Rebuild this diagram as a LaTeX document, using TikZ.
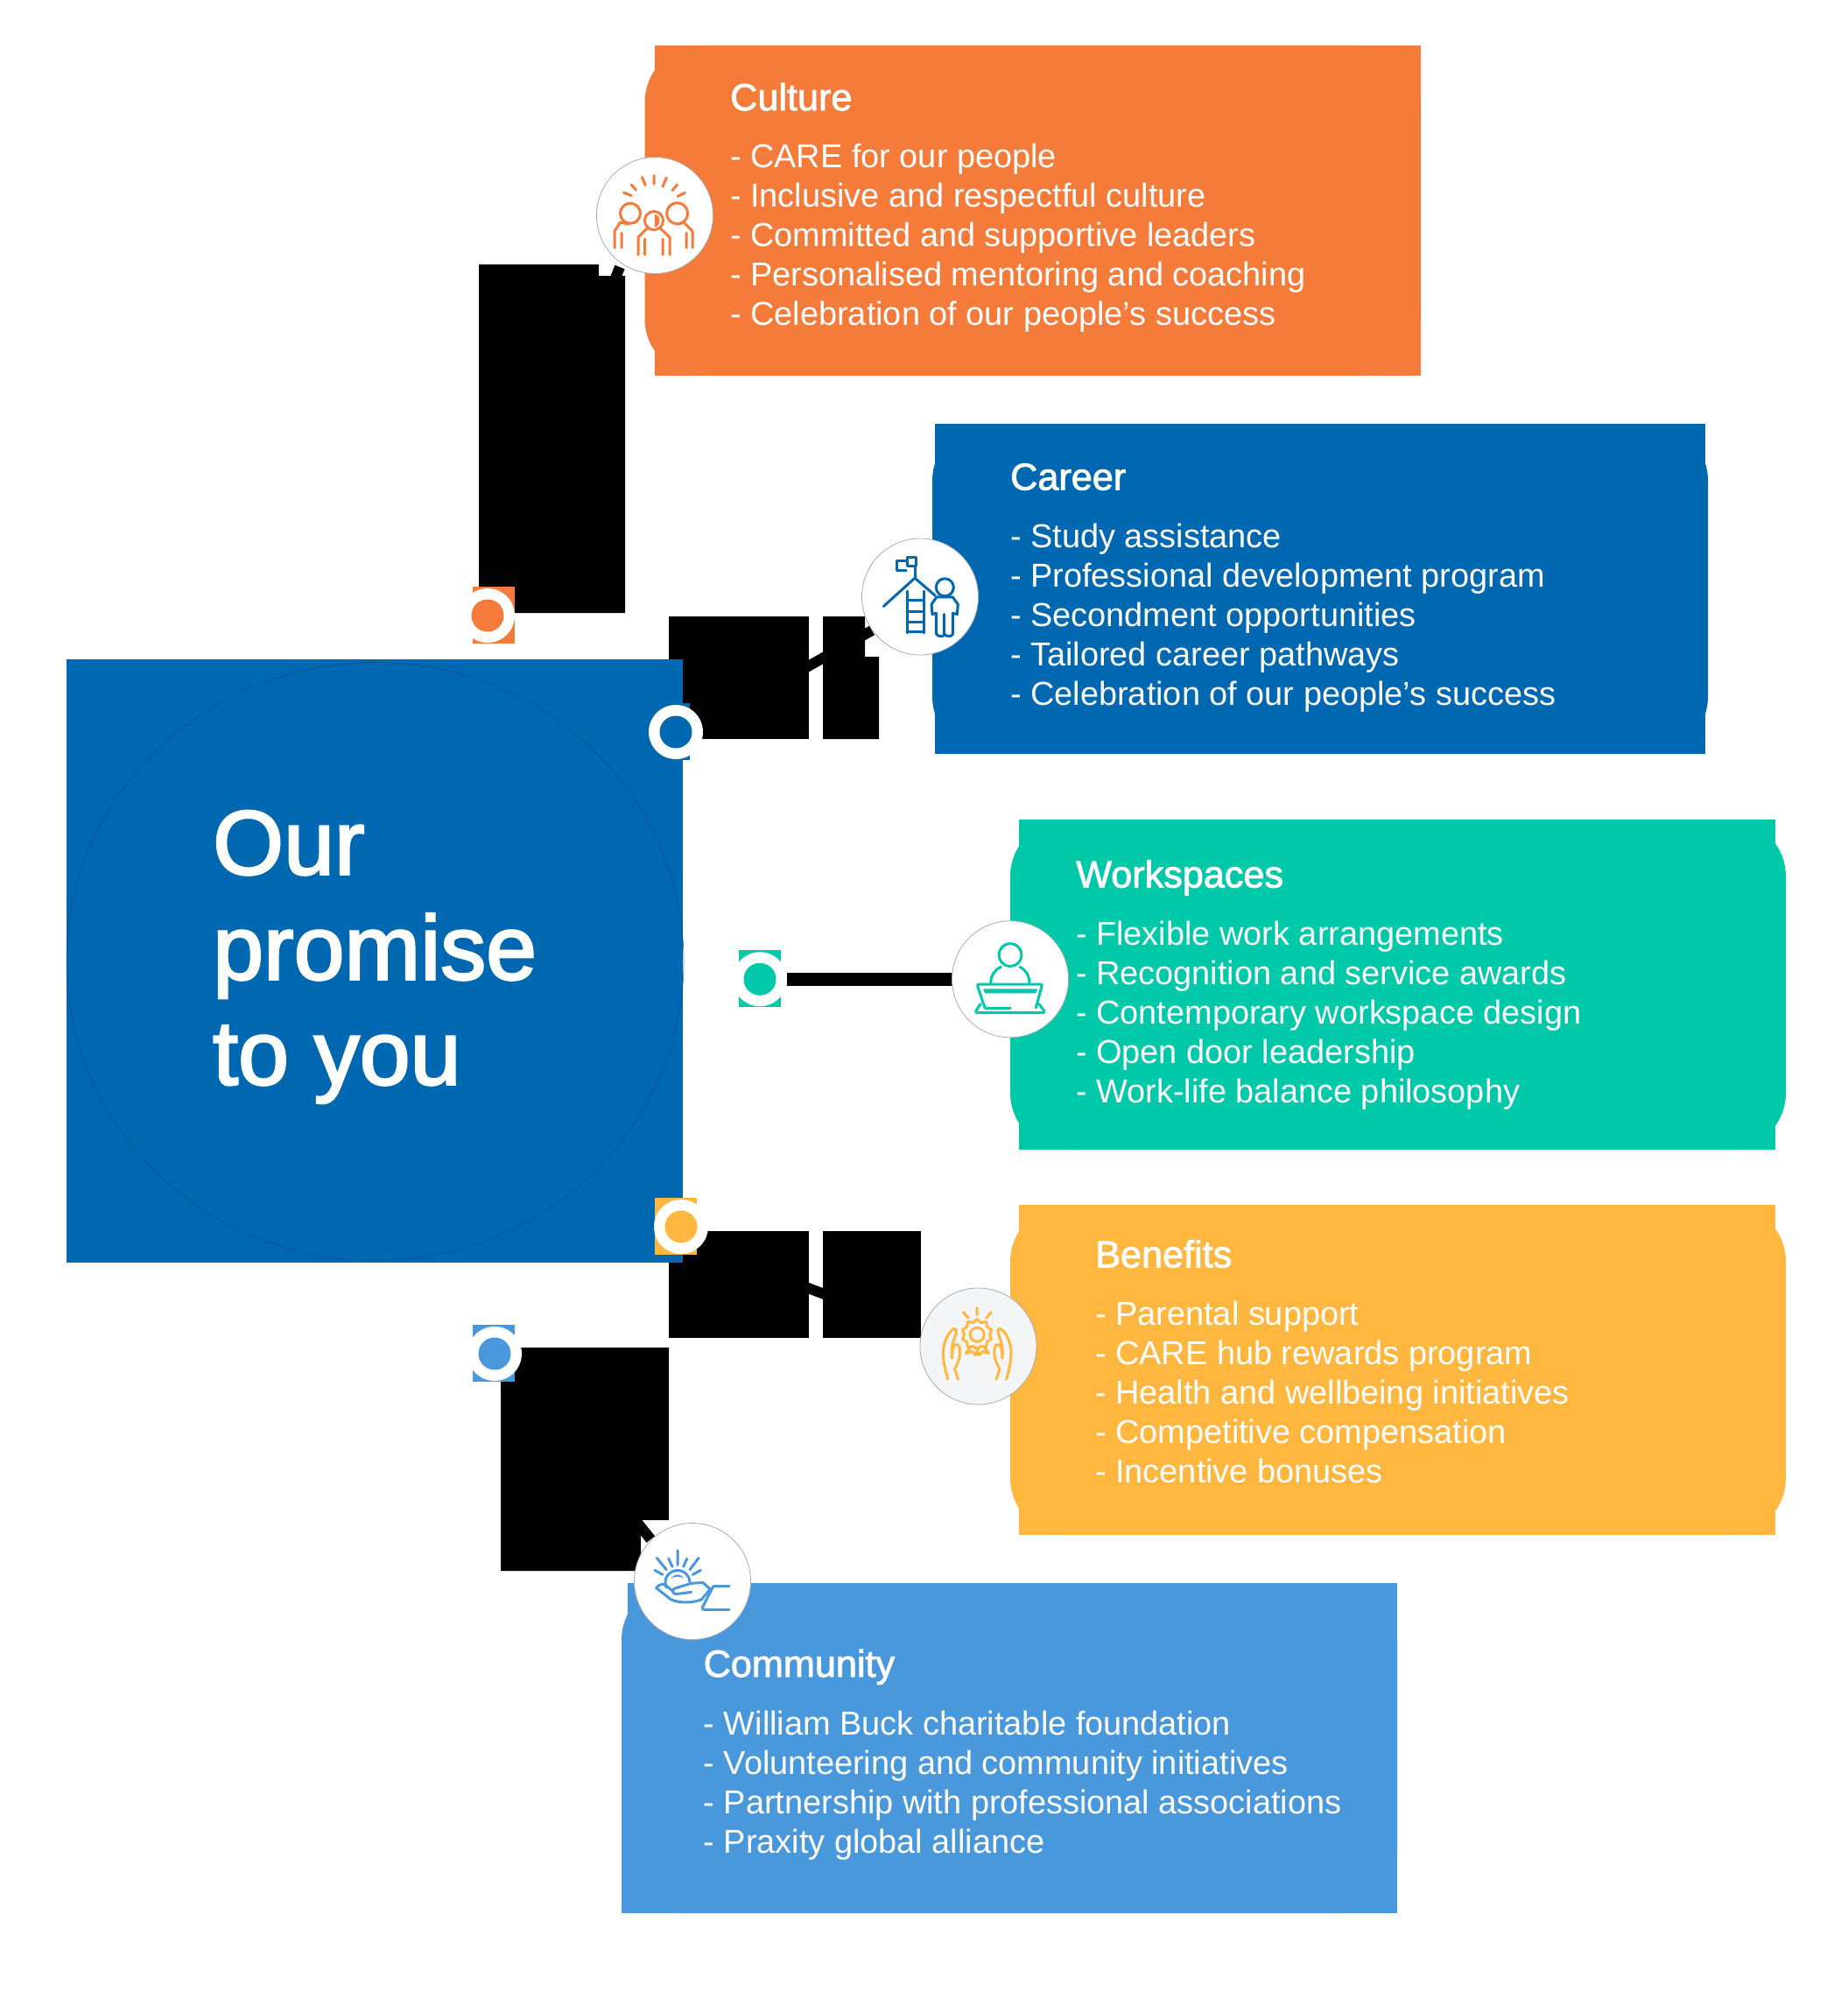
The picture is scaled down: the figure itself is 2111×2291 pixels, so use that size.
\documentclass[tikz,border=0pt]{standalone}
\usepackage{fontspec}
\setmainfont{Liberation Sans}
\newfontfamily\headfont[FakeBold=2]{Liberation Sans}
\newfontfamily\bigfont[FakeBold=2.5]{Liberation Sans}
\usetikzlibrary{calc}
\definecolor{corange}{HTML}{F57B3A}
\definecolor{cblue}{HTML}{0067B1}
\definecolor{cteal}{HTML}{00C9A9}
\definecolor{cyellow}{HTML}{FFB740}
\definecolor{clight}{HTML}{4A98DC}
\definecolor{cgrey}{HTML}{A8ABAE}
\definecolor{cpale}{HTML}{F4F5F7}
\pgfdeclarelayer{under}
\pgfsetlayers{under,main}
\tikzset{
  itemtext/.style={anchor=base west,inner sep=0pt,text=white,font=\fontsize{37.9}{44}\selectfont},
  headtext/.style={anchor=base west,inner sep=0pt,text=white,font=\headfont\fontsize{43.2}{44}\selectfont},
  bigtext/.style={anchor=base west,inner sep=0pt,text=white,font=\bigfont\fontsize{104}{120}\selectfont},
  ringnode/.style={circle,fill=white,minimum size=62pt,inner sep=0pt,outer sep=0pt},
  dotnode/.style={circle,minimum size=37pt,inner sep=0pt,outer sep=0pt},
  iconnode/.style={circle,fill=white,draw=cgrey,line width=0.8pt,minimum size=133pt,inner sep=0pt,outer sep=0pt},
  connector/.style={line width=12pt,black},
  iconline/.style={line width=3pt,line cap=round,line join=round},
  blackblock/.style={fill=black}
}
\begin{document}
\begin{tikzpicture}[x=1pt,y=-1pt]
\useasboundingbox (0,0) rectangle (2111,2291);
\begin{pgfonlayer}{under}
\fill[white] (0,0) rectangle (2111,2291);
% coloured cards
\fill[corange,rounded corners=65pt] (736.5,52) rectangle (1623,429);
\fill[corange] (748,52) rectangle (1623,429);
\fill[cblue,rounded corners=65pt] (1065,484) rectangle (1951,860.5);
\fill[cblue] (1068,484) rectangle (1948,860.5);
\fill[cteal,rounded corners=65pt] (1154,936) rectangle (2040,1313);
\fill[cteal] (1164,936) rectangle (2028,1313);
\fill[cyellow,rounded corners=65pt] (1154,1376) rectangle (2040,1753);
\fill[cyellow] (1164,1376) rectangle (2028,1753);
\fill[clight,rounded corners=65pt] (710,1808) rectangle (1596,2185);
\fill[clight] (716.5,1808) rectangle (1596,2185);
\fill[clight] (710,1880) rectangle (1596,2185);
% black blocks
\fill[blackblock] (547,302) -- (684,302) -- (684,315) -- (714,315) -- (714,700) -- (547,700) -- cycle;
\fill[blackblock] (764,704) rectangle (924,844);
\fill[blackblock] (940,704) -- (988,704) -- (988,750) -- (1004,750) -- (1004,844) -- (940,844) -- cycle;
\fill[blackblock] (764,1406) rectangle (924,1528);
\fill[blackblock] (940,1406) rectangle (1052,1528);
\fill[blackblock] (572,1539) -- (764,1539) -- (764,1736) -- (732,1736) -- (732,1794) -- (572,1794) -- cycle;
\end{pgfonlayer}

% centre panel
\fill[cblue] (76,753) rectangle (780,1441.5);
\node[inner sep=0pt] (centrepanel) at (428.5,1098) {};
\draw[black!25!cblue,line width=0.5pt] (centrepanel) ellipse [x radius=352.5,y radius=341.5];

% small squares
\fill[corange] (540,670) rectangle (588,735);
\fill[cblue] (740,803) rectangle (788,868);
\fill[cteal] (844,1085) rectangle (892,1150);
\fill[cyellow] (748,1368) rectangle (796,1433);
\fill[clight] (540,1513) rectangle (588,1577.5);

% dots
\node[ringnode] (culturedot) at (557,703) {};
\node[ringnode] (careerdot) at (772,836) {};
\node[ringnode] (workdot) at (868,1118.3) {};
\node[ringnode] (benefitdot) at (778,1401) {};
\node[ringnode] (communitydot) at (565,1546) {};
\node[dotnode,fill=corange] (culturedotin) at (culturedot) {};
\node[dotnode,fill=cblue] (careerdotin) at (careerdot) {};
\node[dotnode,fill=cteal] (workdotin) at (workdot) {};
\node[dotnode,fill=cyellow] (benefitdotin) at (benefitdot) {};
\node[dotnode,fill=clight] (communitydotin) at (communitydot) {};

% icons
\node[iconnode] (cultureicon) at (748,246) {};
\node[iconnode] (careericon) at (1051,681.5) {};
\node[iconnode] (workicon) at (1154,1118.3) {};
\node[iconnode,fill=cpale] (benefiticon) at (1117.5,1537.5) {};
\node[iconnode] (communityicon) at (791,1806) {};

% connectors, under the panel, rings and icons
\begin{pgfonlayer}{under}
\draw[connector] ($(culturedot)+(-6,0)$) -- ($(cultureicon)+(-40,59)$);
\draw[connector] ($(careerdot)+(0,10)$) -- ($(careericon)+(-55,38.5)$);
\draw[connector,line width=15pt] (workdot) -- (workicon);
\draw[connector] ($(benefitdot)+(0,15)$) -- ($(benefiticon)+(-69,-19)$);
\draw[connector] ($(communitydot)+(9,0)$) -- ($(communityicon)+(-47.7,-48)$);
\end{pgfonlayer}

% culture icon
\begin{scope}[shift={(cultureicon.center)},iconline,draw=corange]
\draw (-35.6,-26) -- (-26.8,-22.5) (-26.8,-35) -- (-21.4,-29) (-14.5,-43.6) -- (-10.7,-34.4)
      (-1,-45.5) -- (-1,-36) (13.4,-43) -- (9,-33) (25.6,-35) -- (20,-28.5) (34.4,-26) -- (26,-21.6);
\draw (-28,-2.3) circle [radius=11.5];
\draw (25.6,-2.3) circle [radius=12];
\draw (-1,6) circle [radius=10.5];
\draw (1,0.5) .. controls (5,3) and (5,9) .. (1,12) .. controls (2,8) and (2,4) .. cycle;
\draw (-39.4,8) -- (-46,18) -- (-46,37) (-38,20) -- (-38,37) (-39.4,8) -- (-30,10);
\draw (33,8) -- (43,18) -- (43,37) (36,20) -- (36,37) (33,8) -- (27,10);
\draw (-9,15) -- (-19,25) -- (-19,45) (-11.5,27) -- (-11.5,45);
\draw (6.5,15) -- (17,25) -- (17,45) (9,27) -- (9,45);
\end{scope}

% career icon
\begin{scope}[shift={(careericon.center)},iconline,draw=cblue]
\draw (-15,-44.7) -- (-5,-44.7) -- (-5,-34.7) -- (-15,-34.7) -- cycle;
\draw (-16,-41.3) -- (-27,-41.3) -- (-27,-30.3) -- (-16,-30.3);
\draw (-6,-34.7) -- (-6,-21.3);
\draw (-41.7,11) -- (-6,-21.3) -- (17.3,-1.3);
\draw (-15,-6.3) -- (-15,41.3) (4.3,-6.3) -- (4.3,41.3);
\draw (-15,3.7) -- (4.3,3.7) (-15,17) -- (4.3,17) (-15,28.7) -- (4.3,28.7) (-15,40) -- (4.3,40);
\draw (28.3,-10.7) circle [radius=10];
\draw (19,0.3) -- (13,8.7) -- (14,20) -- (18.3,18.7) -- (18.3,42) .. controls (20,46) and (26,46) .. (27.3,44) -- (27.3,20);
\draw (27.3,42) .. controls (29,46) and (36,46) .. (37.3,43) -- (37.3,18.7) -- (42.3,20) -- (43.3,8.7) -- (37.3,0.3) -- (19,0.3);
\end{scope}

% workspaces icon
\begin{scope}[shift={(workicon.center)},iconline,draw=cteal]
\draw (0,-27.7) circle [radius=13];
\draw (-22.3,5) .. controls (-22.3,-5) and (-17,-11) .. (-10.7,-14);
\draw (22,5) .. controls (22,-5) and (17,-11) .. (11,-14);
\draw (-29,32.7) -- (-37.3,8) .. controls (-38,6) and (-37,5.7) .. (-35,5.7) -- (34,5.7) .. controls (36,5.7) and (37,6) .. (36,8) -- (29.3,32.7);
\fill[cteal] (-30.7,11) -- (31,11) -- (29.3,16) -- (-29,16) -- cycle;
\draw (-29,32.7) -- (0,32.7);
\draw (-34,28.3) -- (-39,36) .. controls (-40,38) and (-39,38.3) .. (-37,38.3) -- (36,38.3) .. controls (38,38.3) and (39.5,38) .. (38.7,36) -- (32.7,28.3);
\end{scope}

% benefits icon
\begin{scope}[shift={(benefiticon.center)},iconline,draw=cyellow]
\draw (-17.3,-39) -- (-11.3,-32.3) (-1.3,-44) -- (-1.3,-35.7) (15,-39) -- (9.3,-32.3);
\draw (-1.3,-13.3) circle [radius=8];
\draw (-1.3,-31) -- (3,-27) -- (9,-28) -- (10,-22) -- (15,-19) -- (13,-13) -- (15,-8) -- (10,-5) -- (9,1) -- (3,0) -- (-1.3,3)
      -- (-6,0) -- (-12,1) -- (-13,-5) -- (-18,-8) -- (-16,-13) -- (-18,-19) -- (-13,-22) -- (-12,-28) -- (-6,-27) -- cycle;
\draw (-8,0) -- (-14,8) -- (-7,6) -- (-3,10) -- (0,3) (6,0) -- (12,8) -- (5,6) -- (1,10) -- (-2,3);
\draw (-34.7,37.7) .. controls (-40,20) and (-42,5) .. (-38,-5) .. controls (-35,-14) and (-30,-20) .. (-27,-20)
      .. controls (-24,-20) and (-25,-15) .. (-27,-10) .. controls (-30,-3) and (-31,5) .. (-30,14)
      .. controls (-30,2) and (-28,-2) .. (-25,-2) .. controls (-21,-2) and (-21,3) .. (-21,8)
      .. controls (-21,15) and (-24,20) .. (-27,26) -- (-23,37.7);
\draw (32.1,37.7) .. controls (37.4,20) and (39.4,5) .. (35.4,-5) .. controls (32.4,-14) and (27.4,-20) .. (24.4,-20)
      .. controls (21.4,-20) and (22.4,-15) .. (24.4,-10) .. controls (27.4,-3) and (28.4,5) .. (27.4,14)
      .. controls (27.4,2) and (25.4,-2) .. (22.4,-2) .. controls (18.4,-2) and (18.4,3) .. (18.4,8)
      .. controls (18.4,15) and (21.4,20) .. (24.4,26) -- (20.4,37.7);
\end{scope}

% community icon
\begin{scope}[shift={(communityicon.center)},iconline,draw=clight]
\draw (-17,-35.3) -- (-17,-18.7) (-27.3,-26) -- (-23,-16.7) (-6.3,-26) -- (-10.3,-16.7)
      (-40.7,-26.7) -- (-29.7,-13.3) (7,-26.7) -- (-3,-13.3) (-43,-12.7) -- (-34,-7.7) (9.3,-12.7) -- (0.3,-7.7);
\draw (-30,7) .. controls (-34,-4) and (-26,-12.5) .. (-17,-12.5) .. controls (-9,-12.5) and (-3,-6) .. (-3,1);
\fill[clight] (-24.7,-3.5) .. controls (-21,-9) and (-13,-9) .. (-9.7,-3.5) .. controls (-14,-6) and (-20,-6) .. cycle;
\draw (-1.3,2.3) -- (12,1.3) -- (20.3,9) -- (10.3,20.7) .. controls (0,25) and (-15,25) .. (-24.7,20.7) -- (-41.3,7.5) .. controls (-40,5) and (-36,3) .. (-32,3.3) -- (-23,10.7);
\draw (-1.3,12.3) -- (-18,14.5) .. controls (-24,15) and (-24,8) .. (-18,7.3) -- (-1.3,2.3);
\draw (42,5.7) -- (23.7,5.7) -- (11.3,30) .. controls (11,32) and (12,32.3) .. (14,32.3) -- (42,32.3);
\end{scope}

% centre title
\node[bigtext] (titleA) at (243,998.5) {Our};
\node[bigtext] (titleB) at (243,1118.5) {promise};
\node[bigtext] (titleC) at (243,1238.5) {to you};

% culture text
\node[headtext] (cultureH) at (834,126) {Culture};
\node[itemtext] (cultureA) at (834,191) {- CARE for our people};
\node[itemtext] (cultureB) at (834,236) {- Inclusive and respectful culture};
\node[itemtext] (cultureC) at (834,281) {- Committed and supportive leaders};
\node[itemtext] (cultureD) at (834,326.5) {- Personalised mentoring and coaching};
\node[itemtext] (cultureE) at (834,371.5) {- Celebration of our people’s success};

% career text
\node[headtext] (careerH) at (1154,559.5) {Career};
\node[itemtext] (careerA) at (1154,625) {- Study assistance};
\node[itemtext] (careerB) at (1154,670) {- Professional development program};
\node[itemtext] (careerC) at (1154,715) {- Secondment opportunities};
\node[itemtext] (careerD) at (1154,760.5) {- Tailored career pathways};
\node[itemtext] (careerE) at (1154,805.5) {- Celebration of our people’s success};

% workspaces text
\node[headtext] (workH) at (1229,1013.5) {Workspaces};
\node[itemtext] (workA) at (1229,1079) {- Flexible work arrangements};
\node[itemtext] (workB) at (1229,1124) {- Recognition and service awards};
\node[itemtext] (workC) at (1229,1169) {- Contemporary workspace design};
\node[itemtext] (workD) at (1229,1214) {- Open door leadership};
\node[itemtext] (workE) at (1229,1259.5) {- Work-life balance philosophy};

% benefits text
\node[headtext] (benefitH) at (1251,1447.5) {Benefits};
\node[itemtext] (benefitA) at (1251,1513) {- Parental support};
\node[itemtext] (benefitB) at (1251,1558) {- CARE hub rewards program};
\node[itemtext] (benefitC) at (1251,1603) {- Health and wellbeing initiatives};
\node[itemtext] (benefitD) at (1251,1648.5) {- Competitive compensation};
\node[itemtext] (benefitE) at (1251,1693.5) {- Incentive bonuses};

% community text
\node[headtext] (communityH) at (803.5,1915) {Community};
\node[itemtext] (communityA) at (803.5,1981) {- William Buck charitable foundation};
\node[itemtext] (communityB) at (803.5,2026) {- Volunteering and community initiatives};
\node[itemtext] (communityD) at (803.5,2071) {- Partnership with professional associations};
\node[itemtext] (communityE) at (803.5,2116) {- Praxity global alliance};
\end{tikzpicture}
\end{document}
